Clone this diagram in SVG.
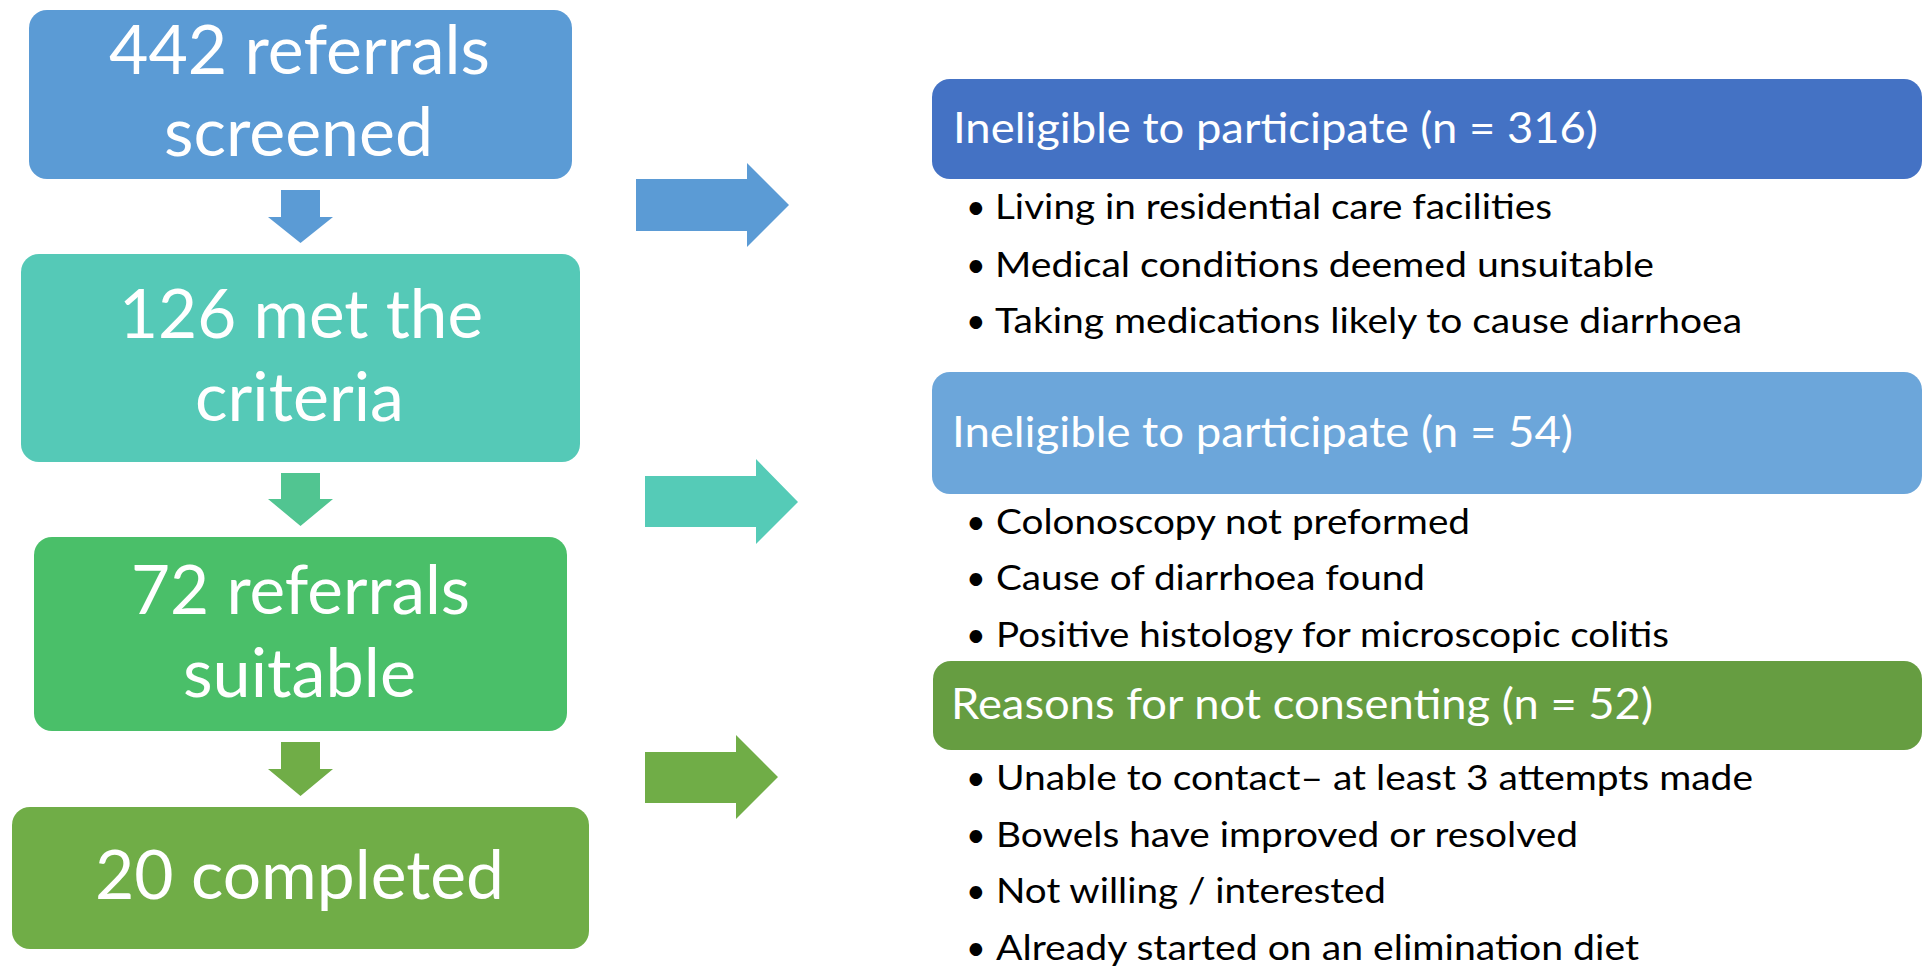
<svg xmlns="http://www.w3.org/2000/svg" width="1924" height="967" viewBox="0 0 1924 967">
  <style>
    text { font-family: Lato, "Open Sans", "Liberation Sans", sans-serif; }
    .big { font-size: 68px; fill: #ffffff; }
    .title { font-size: 43px; fill: #ffffff; }
    .item { font-size: 34px; fill: #000000; }
  </style>
  <rect width="1924" height="967" fill="#ffffff"/>

  <!-- block arrows between and beside the stages -->
  <g id="connectors">
    <polygon points="281,190 320,190 320,217 333,217 300.5,243 268,217 281,217" fill="#5B9BD5"/>
    <polygon points="281,473 320,473 320,499 333,499 300.5,526 268,499 281,499" fill="#51C591"/>
    <polygon points="281,742 320,742 320,769 333,769 300.5,796 268,769 281,769" fill="#70AD47"/>
    <polygon points="636,179 747,179 747,163 789,205 747,247 747,231 636,231" fill="#5B9BD5"/>
    <polygon points="645,476 756,476 756,459 798,502 756,544 756,527 645,527" fill="#55CBB7"/>
    <polygon points="645,752 736,752 736,735 778,777 736,819 736,803 645,803" fill="#70AD47"/>
  </g>

  <!-- flow stages -->
  <g id="screened">
    <rect x="29" y="10" width="543" height="169" rx="18" fill="#5B9BD5"/>
    <text class="big" x="109" y="74" textLength="381" lengthAdjust="spacingAndGlyphs">442 referrals</text>
    <text class="big" x="164" y="156" textLength="269" lengthAdjust="spacingAndGlyphs">screened</text>
  </g>
  <g id="met-criteria">
    <rect x="21" y="254" width="559" height="208" rx="18" fill="#55C9B7"/>
    <text class="big" x="119" y="338" textLength="364" lengthAdjust="spacingAndGlyphs">126 met the</text>
    <text class="big" x="195" y="421" textLength="209" lengthAdjust="spacingAndGlyphs">criteria</text>
  </g>
  <g id="suitable">
    <rect x="34" y="537" width="533" height="194" rx="18" fill="#4ABF69"/>
    <text class="big" x="131" y="614" textLength="339" lengthAdjust="spacingAndGlyphs">72 referrals</text>
    <text class="big" x="183" y="697" textLength="233" lengthAdjust="spacingAndGlyphs">suitable</text>
  </g>
  <g id="completed">
    <rect x="12" y="807" width="577" height="142" rx="18" fill="#70AD47"/>
    <text class="big" x="95" y="899" textLength="409" lengthAdjust="spacingAndGlyphs">20 completed</text>
  </g>

  <!-- exclusion panels -->
  <g id="ineligible-316">
    <rect x="932" y="79" width="990" height="100" rx="18" fill="#4472C4"/>
    <text class="title" x="953" y="143" textLength="645" lengthAdjust="spacingAndGlyphs">Ineligible to participate (n = 316)</text>
    <text class="item" x="966" y="219">•</text>
    <text class="item" x="995" y="219" textLength="557" lengthAdjust="spacingAndGlyphs">Living in residential care facilities</text>
    <text class="item" x="966" y="277">•</text>
    <text class="item" x="995" y="277" textLength="659" lengthAdjust="spacingAndGlyphs">Medical conditions deemed unsuitable</text>
    <text class="item" x="966" y="333">•</text>
    <text class="item" x="995" y="333" textLength="747" lengthAdjust="spacingAndGlyphs">Taking medications likely to cause diarrhoea</text>
  </g>
  <g id="ineligible-54">
    <rect x="932" y="372" width="990" height="122" rx="18" fill="#6CA6DA"/>
    <text class="title" x="952" y="447" textLength="621" lengthAdjust="spacingAndGlyphs">Ineligible to participate (n = 54)</text>
    <text class="item" x="966" y="534">•</text>
    <text class="item" x="996" y="534" textLength="474" lengthAdjust="spacingAndGlyphs">Colonoscopy not preformed</text>
    <text class="item" x="966" y="590">•</text>
    <text class="item" x="996" y="590" textLength="429" lengthAdjust="spacingAndGlyphs">Cause of diarrhoea found</text>
    <text class="item" x="966" y="647">•</text>
    <text class="item" x="996" y="647" textLength="673" lengthAdjust="spacingAndGlyphs">Positive histology for microscopic colitis</text>
  </g>
  <g id="not-consenting-52">
    <rect x="933" y="661" width="989" height="89" rx="18" fill="#669D41"/>
    <text class="title" x="951" y="719" textLength="702" lengthAdjust="spacingAndGlyphs">Reasons for not consenting (n = 52)</text>
    <text class="item" x="966" y="790">•</text>
    <text class="item" x="996" y="790" textLength="757" lengthAdjust="spacingAndGlyphs">Unable to contact– at least 3 attempts made</text>
    <text class="item" x="966" y="847">•</text>
    <text class="item" x="996" y="847" textLength="582" lengthAdjust="spacingAndGlyphs">Bowels have improved or resolved</text>
    <text class="item" x="966" y="903">•</text>
    <text class="item" x="996" y="903" textLength="390" lengthAdjust="spacingAndGlyphs">Not willing / interested</text>
    <text class="item" x="966" y="960">•</text>
    <text class="item" x="996" y="960" textLength="643" lengthAdjust="spacingAndGlyphs">Already started on an elimination diet</text>
  </g>
</svg>
